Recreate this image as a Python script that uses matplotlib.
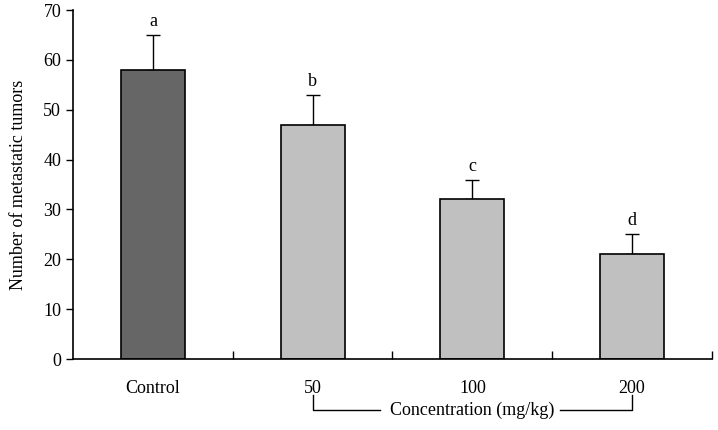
import numpy as np
import matplotlib.pyplot as plt

plt.rcParams['font.family'] = 'Liberation Serif'

# Data
groups = ['Control', '50', '100', '200']
means = [58, 47, 32, 21]
errors = [7, 6, 4, 4]
letters = ['a', 'b', 'c', 'd']
colors = ['#666666', '#c0c0c0', '#c0c0c0', '#c0c0c0']

fig = plt.figure(figsize=(7.18, 4.3), dpi=100)
ax = fig.add_axes([0.1017, 0.1651, 0.8899, 0.8116])

x = np.arange(len(groups))
ax.bar(x, means, width=0.4, color=colors, edgecolor='black', linewidth=1.2, zorder=2)
ax.errorbar(x, means, yerr=[np.zeros(len(errors)), errors], fmt='none',
            ecolor='black', elinewidth=1, capsize=5, capthick=1, zorder=1)
for xi, m, e, lab in zip(x, means, errors, letters):
    ax.text(xi, m + e + 1, lab, ha='center', va='bottom', fontsize=13)

ax.set_xlim(-0.5, len(groups) - 0.5)
ax.set_ylim(0, 70)
ax.set_yticks(range(0, 71, 10))
ax.tick_params(axis='y', direction='out', length=5, width=1, labelsize=13)
# category boundary ticks pointing up, no labels
ax.set_xticks(x[1:] - 0.5, minor=False)
ax.set_xticks([len(groups) - 0.5], minor=True)
ax.tick_params(axis='x', which='both', direction='in', length=6, width=1, labelbottom=False)
for xi, g in zip(x, groups):
    ax.text(xi, -0.06, g, transform=ax.get_xaxis_transform(), ha='center', va='top', fontsize=13)

ax.spines['top'].set_visible(False)
ax.spines['right'].set_visible(False)
ax.spines['left'].set_linewidth(1.2)
ax.spines['bottom'].set_linewidth(1.2)
ax.set_ylabel('Number of metastatic tumors', fontsize=13, labelpad=12)

# bracket under concentration groups
tr = ax.get_xaxis_transform()
yb_top, yb = -0.103, -0.146
ax.plot([1, 1, 1.42], [yb_top, yb, yb], color='black', lw=1, transform=tr, clip_on=False)
ax.plot([2.55, 3, 3], [yb, yb, yb_top], color='black', lw=1, transform=tr, clip_on=False)
ax.text(2.0, yb, 'Concentration (mg/kg)', transform=tr, ha='center', va='center', fontsize=13)

fig.savefig('out.png', dpi=100)
